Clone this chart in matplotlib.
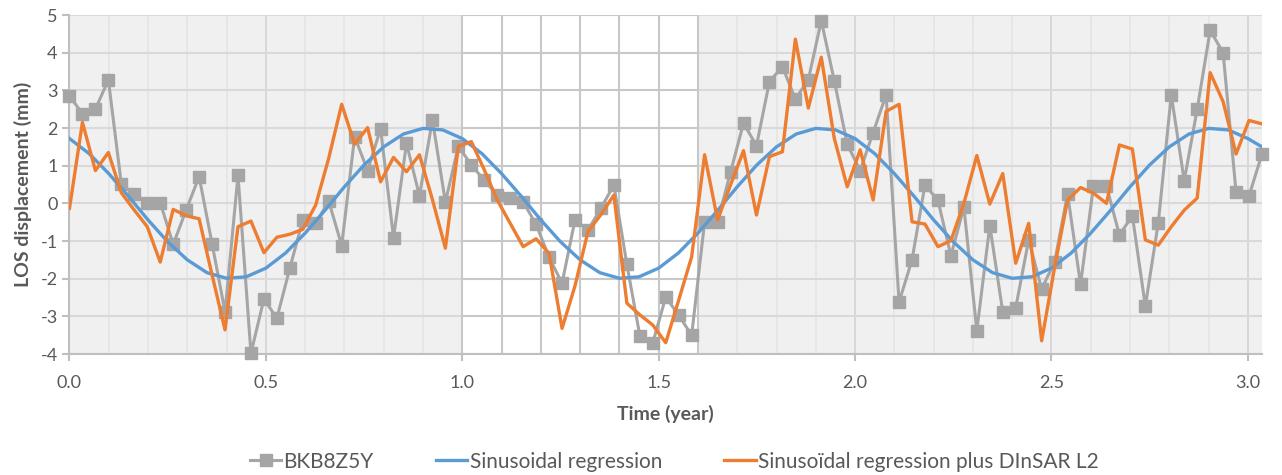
import matplotlib
matplotlib.use("Agg")
import matplotlib.pyplot as plt
from matplotlib.lines import Line2D

# ============================================================
# DATA
# ============================================================
time_year = [
    0.000, 0.033, 0.066, 0.099, 0.132, 0.165, 0.198, 0.231, 0.264, 0.297,
    0.330, 0.363, 0.396, 0.429, 0.462, 0.495, 0.528, 0.561, 0.594, 0.627,
    0.660, 0.693, 0.726, 0.759, 0.792, 0.825, 0.858, 0.891, 0.924, 0.957,
    0.990, 1.023, 1.056, 1.089, 1.122, 1.155, 1.188, 1.221, 1.254, 1.287,
    1.320, 1.353, 1.386, 1.419, 1.452, 1.485, 1.518, 1.551, 1.584, 1.617,
    1.650, 1.683, 1.716, 1.749, 1.782, 1.815, 1.848, 1.881, 1.914, 1.947,
    1.980, 2.013, 2.046, 2.079, 2.112, 2.145, 2.178, 2.211, 2.244, 2.277,
    2.310, 2.343, 2.376, 2.409, 2.442, 2.475, 2.508, 2.541, 2.574, 2.607,
    2.640, 2.673, 2.706, 2.739, 2.772, 2.805, 2.838, 2.871, 2.904, 2.937,
    2.970, 3.003, 3.036,
]

bkb8z5y = [
    2.85, 2.38, 2.50, 3.28, 0.51, 0.25, 0.00, 0.02, -1.09, -0.18,
    0.71, -1.07, -2.88, 0.74, -3.98, -2.54, -3.05, -1.72, -0.44, -0.53,
    0.06, -1.12, 1.77, 0.87, 1.98, -0.91, 1.59, 0.20, 2.22, 0.03,
    1.52, 1.02, 0.61, 0.22, 0.13, 0.04, -0.56, -1.43, -2.12, -0.44,
    -0.71, -0.13, 0.49, -1.62, -3.51, -3.70, -2.49, -2.97, -3.50, -0.49,
    -0.49, 0.83, 2.13, 1.53, 3.23, 3.63, 2.77, 3.28, 4.85, 3.26,
    1.57, 0.87, 1.88, 2.88, -2.62, -1.50, 0.49, 0.08, -1.39, -0.10,
    -3.38, -0.59, -2.88, -2.77, -0.97, -2.27, -1.56, 0.25, -2.15, 0.46,
    0.46, -0.84, -0.33, -2.73, -0.51, 2.88, 0.60, 2.50, 4.59, 4.00,
    0.29, 0.20, 1.31,
]

sinus_plus_dinsar = [
    -0.13, 2.15, 0.87, 1.35, 0.28, -0.18, -0.62, -1.56, -0.16, -0.33,
    -0.41, -1.90, -3.36, -0.62, -0.47, -1.31, -0.90, -0.82, -0.69, -0.04,
    1.20, 2.63, 1.57, 2.01, 0.57, 1.22, 0.84, 1.29, 0.10, -1.19,
    1.51, 1.64, 0.89, 0.09, -0.53, -1.15, -0.94, -1.33, -3.32, -2.19,
    -0.75, -0.30, 0.22, -2.65, -2.96, -3.23, -3.70, -2.57, -1.42, 1.29,
    -0.44, 0.49, 1.40, -0.31, 1.24, 1.37, 4.36, 2.53, 3.88, 1.73,
    0.44, 1.42, 0.09, 2.44, 2.63, -0.49, -0.55, -1.15, -0.99, 0.00,
    1.27, -0.02, 0.79, -1.59, -0.53, -3.65, -1.70, 0.09, 0.42, 0.27,
    0.00, 1.55, 1.44, -0.97, -1.11, -0.62, -0.18, 0.14, 3.47, 2.70,
    1.31, 2.20, 2.11,
]

# sinusoidal regression curve, sampled every 0.05 year
sinus_time = [
    0.00, 0.05, 0.10, 0.15, 0.20, 0.25, 0.30, 0.35, 0.40, 0.45,
    0.50, 0.55, 0.60, 0.65, 0.70, 0.75, 0.80, 0.85, 0.90, 0.95,
    1.00, 1.05, 1.10, 1.15, 1.20, 1.25, 1.30, 1.35, 1.40, 1.45,
    1.50, 1.55, 1.60, 1.65, 1.70, 1.75, 1.80, 1.85, 1.90, 1.95,
    2.00, 2.05, 2.10, 2.15, 2.20, 2.25, 2.30, 2.35, 2.40, 2.45,
    2.50, 2.55, 2.60, 2.65, 2.70, 2.75, 2.80, 2.85, 2.90, 2.95,
    3.00, 3.036,
]
sinus_fit = [
    1.72, 1.32, 0.79, 0.19, -0.44, -1.02, -1.50, -1.84, -1.99, -1.95,
    -1.72, -1.32, -0.79, -0.19, 0.44, 1.02, 1.50, 1.84, 1.99, 1.95,
    1.72, 1.32, 0.79, 0.19, -0.44, -1.02, -1.50, -1.84, -1.99, -1.95,
    -1.72, -1.32, -0.79, -0.19, 0.44, 1.02, 1.50, 1.84, 1.99, 1.95,
    1.72, 1.32, 0.79, 0.19, -0.44, -1.02, -1.50, -1.84, -1.99, -1.95,
    -1.72, -1.32, -0.79, -0.19, 0.44, 1.02, 1.50, 1.84, 1.99, 1.95,
    1.72, 1.50,
]

x_ticks = [0.0, 0.5, 1.0, 1.5, 2.0, 2.5, 3.0]
y_ticks = [-4, -3, -2, -1, 0, 1, 2, 3, 4, 5]
white_window = (1.0, 1.6)

# ============================================================
# STYLE
# ============================================================
plt.rcParams["font.family"] = ["Lato", "DejaVu Sans"]
plt.rcParams["axes.unicode_minus"] = False

GREY = "#A5A5A5"
BLUE = "#5B9BD5"
ORANGE = "#ED7D31"
TEXT = "#595959"

fig = plt.figure(figsize=(12.82, 4.75), dpi=100)
ax = fig.add_axes([0.0542, 0.2547, 0.9302, 0.7137])
ax.set_facecolor("#F0F0F0")

x_max = time_year[-1]
ax.set_xlim(0, x_max)
ax.set_ylim(-4, 5)

# grid on grey background
for xv in [i / 10 for i in range(0, 31)]:
    major = abs(xv * 2 - round(xv * 2)) < 1e-9
    ax.axvline(xv, color="#D4D4D4" if major else "#E4E4E4", lw=1.2, zorder=1)
for yv in y_ticks:
    ax.axhline(yv, color="#D9D9D9", lw=1.5, zorder=1)

# white window with its own darker grid
ax.axvspan(*white_window, color="white", zorder=1.5, lw=0)
x0, x1 = white_window
ax.vlines([x0 + i / 10 for i in range(0, 7)], -4, 5, color="#C8C8C8", lw=1.5, zorder=1.6)
ax.hlines(y_ticks, x0, x1, color="#C8C8C8", lw=1.5, zorder=1.6)

# series
ax.plot(time_year, bkb8z5y, color=GREY, lw=2.2, marker="s", markersize=8,
        markeredgecolor=GREY, zorder=3, clip_on=False)
ax.plot(sinus_time, sinus_fit, color=BLUE, lw=2.4, zorder=4)
ax.plot(time_year, sinus_plus_dinsar, color=ORANGE, lw=2.4, zorder=5)

# axes
for side in ["top", "right"]:
    ax.spines[side].set_visible(False)
for side in ["left", "bottom"]:
    ax.spines[side].set_color("#BFBFBF")
    ax.spines[side].set_linewidth(1.5)
    ax.spines[side].set_zorder(2)

ax.set_xticks(x_ticks)
ax.set_xticklabels([f"{v:.1f}" for v in x_ticks])
ax.set_yticks(y_ticks)
ax.tick_params(axis="both", colors="#BFBFBF", labelcolor=TEXT, labelsize=13,
               length=5, width=1.5, direction="out")
ax.tick_params(axis="x", pad=10)

ax.set_xlabel("Time (year)", fontsize=14, fontweight="bold", color=TEXT, labelpad=10)
ax.set_ylabel("LOS displacement (mm)", fontsize=14, fontweight="bold", color=TEXT, labelpad=6)

handles = [
    Line2D([], [], color=GREY, lw=2.2, marker="s", markersize=8),
    Line2D([], [], color=BLUE, lw=2.4),
    Line2D([], [], color=ORANGE, lw=2.4),
]
labels = ["BKB8Z5Y", "Sinusoidal regression", "Sinusoïdal regression plus DInSAR L2"]
fig.legend(handles, labels, loc="center", bbox_to_anchor=(0.526, 0.028), ncol=3,
           frameon=False, fontsize=15, handlelength=1.5, handletextpad=0.1,
           columnspacing=3.0, labelcolor=TEXT)

fig.savefig("out.png", dpi=100)
